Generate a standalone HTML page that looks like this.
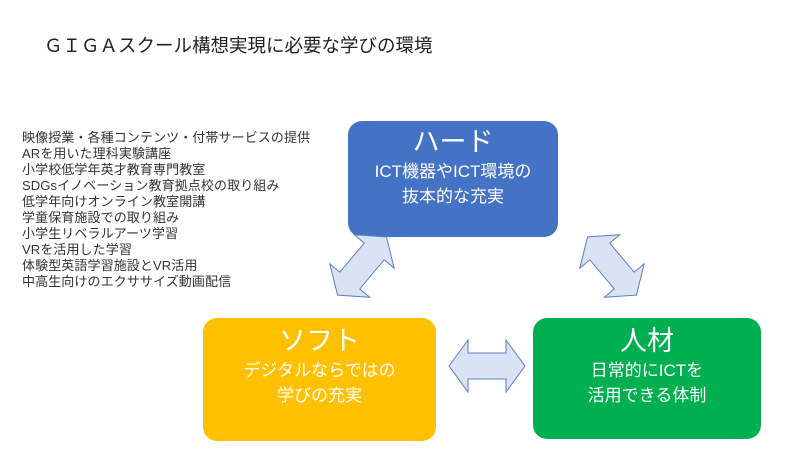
<!DOCTYPE html>
<html><head><meta charset="utf-8"><style>
body{margin:0;width:800px;height:450px;background:#fff;position:relative;overflow:hidden;font-family:"Liberation Sans","Noto Sans CJK JP",sans-serif;}
.t{position:absolute;left:44px;top:32px;font-size:18.5px;color:#222;white-space:nowrap}
.list{position:absolute;left:22px;top:130px;font-size:13px;line-height:16px;color:#333;white-space:nowrap;letter-spacing:0.1px}
.box{position:absolute;border-radius:14px;color:#fff;text-align:center}
.box .h{font-size:27px;line-height:34px;margin-top:4px}
.box .s{font-size:17px;line-height:25px}
</style></head><body>
<div class="t">ＧＩＧＡスクール構想実現に必要な学びの環境</div>
<div class="list">映像授業・各種コンテンツ・付帯サービスの提供<br>ARを用いた理科実験講座<br>小学校低学年英才教育専門教室<br>SDGsイノベーション教育拠点校の取り組み<br>低学年向けオンライン教室開講<br>学童保育施設での取り組み<br>小学生リベラルアーツ学習<br>VRを活用した学習<br>体験型英語学習施設とVR活用<br>中高生向けのエクササイズ動画配信</div>
<div class="box" style="left:348px;top:121px;width:210px;height:116px;background:#4472c4"><div class="h">ハード</div><div class="s">ICT機器やICT環境の<br>抜本的な充実</div></div>
<div class="box" style="left:203px;top:318px;width:233px;height:123px;background:#ffc000"><div class="h" style="margin-top:6px">ソフト</div><div class="s">デジタルならではの<br>学びの充実</div></div>
<div class="box" style="left:533px;top:318px;width:228px;height:121px;background:#00b050"><div class="h" style="margin-top:6px">人材</div><div class="s">日常的にICTを<br>活用できる体制</div></div>
<svg width="800" height="450" style="position:absolute;left:0;top:0">
<defs><polygon id="ar" points="-38,0 -19,-26 -19,-13 19,-13 19,-26 38,0 19,26 19,13 -19,13 -19,26" fill="#dae3f3" stroke="#5b7fc0" stroke-width="1"/></defs>
<use href="#ar" transform="translate(487,366)"/>
<use href="#ar" transform="translate(362,266) rotate(-50)"/>
<use href="#ar" transform="translate(612,266) rotate(50)"/>
</svg>
</body></html>
